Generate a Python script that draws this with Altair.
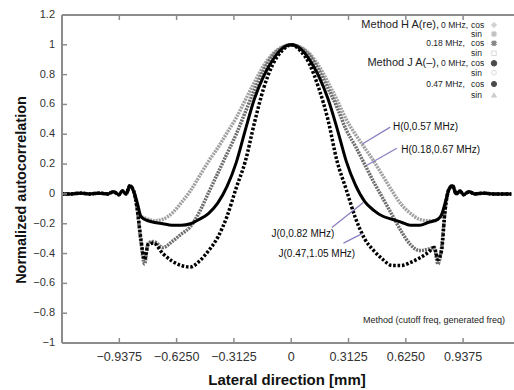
import altair as alt
import pandas as pd

# ---------------- data ----------------
x_mm = [-1.25, -1.2, -1.15, -1.1, -1.05, -1.0, -0.97, -0.94, -0.92, -0.9, -0.88, -0.86,
        -0.84, -0.82, -0.8, -0.78, -0.75, -0.7, -0.65, -0.6, -0.55, -0.5, -0.45, -0.4,
        -0.35, -0.3, -0.25, -0.2, -0.15, -0.1, -0.05, 0.0, 0.05, 0.1, 0.15, 0.2, 0.25,
        0.3, 0.35, 0.4, 0.45, 0.5, 0.55, 0.6, 0.65, 0.7, 0.75, 0.78, 0.8, 0.82, 0.84,
        0.86, 0.88, 0.9, 0.92, 0.94, 0.97, 1.0, 1.05, 1.1, 1.15, 1.2]

h0_cos = [0.0, 0.0, 0.005, 0.0, 0.005, 0.0, 0.015, -0.005, 0.02, 0.0, 0.055, 0.02,
          -0.06, -0.15, -0.16, -0.17, -0.18, -0.17, -0.13, -0.06, 0.02, 0.12, 0.22, 0.31,
          0.41, 0.51, 0.63, 0.75, 0.86, 0.94, 0.985, 1.0, 0.985, 0.94, 0.86, 0.75, 0.63,
          0.50, 0.40, 0.31, 0.22, 0.12, 0.02, -0.07, -0.13, -0.17, -0.18, -0.18, -0.17, -0.14, -0.06,
          0.03, 0.055, 0.0, 0.02, -0.005, 0.015, 0.0, 0.005, 0.0, 0.0, 0.0]

h018_cos = [0.0, 0.0, 0.005, 0.0, 0.005, 0.0, 0.015, -0.005, 0.02, 0.0, 0.055, 0.02,
            -0.10, -0.32, -0.47, -0.33, -0.32, -0.36, -0.32, -0.27, -0.22, -0.12, 0.01, 0.14,
            0.27, 0.40, 0.55, 0.70, 0.83, 0.93, 0.98, 1.0, 0.98, 0.93, 0.83, 0.71, 0.58,
            0.43, 0.32, 0.20, 0.08, -0.03, -0.14, -0.25, -0.34, -0.38, -0.37, -0.36, -0.47, -0.36, -0.10,
            0.03, 0.055, 0.0, 0.02, -0.005, 0.015, 0.0, 0.005, 0.0, 0.0, 0.0]

j0_cos = [0.0, 0.0, 0.005, 0.0, 0.005, 0.0, 0.015, -0.005, 0.02, 0.0, 0.055, 0.02,
          -0.06, -0.15, -0.17, -0.18, -0.19, -0.20, -0.21, -0.21, -0.20, -0.17, -0.13, -0.06,
          0.05, 0.21, 0.43, 0.64, 0.79, 0.90, 0.975, 1.0, 0.975, 0.90, 0.79, 0.64, 0.44,
          0.22, 0.06, -0.05, -0.11, -0.15, -0.17, -0.19, -0.21, -0.21, -0.19, -0.18, -0.17, -0.14, -0.06,
          0.03, 0.055, 0.0, 0.02, -0.005, 0.015, 0.0, 0.005, 0.0, 0.0, 0.0]

j047_cos = [0.0, 0.0, 0.005, 0.0, 0.005, 0.0, 0.015, -0.005, 0.02, 0.0, 0.055, 0.02,
            -0.10, -0.30, -0.44, -0.34, -0.33, -0.40, -0.45, -0.48, -0.49, -0.45, -0.38, -0.29,
            -0.15, 0.04, 0.22, 0.48, 0.71, 0.87, 0.96, 1.0, 0.96, 0.87, 0.71, 0.50, 0.22,
            0.03, -0.16, -0.30, -0.38, -0.44, -0.48, -0.48, -0.46, -0.43, -0.39, -0.36, -0.44, -0.38, -0.10,
            0.03, 0.055, 0.0, 0.02, -0.005, 0.015, 0.0, 0.005, 0.0, 0.0, 0.0]

x_ticks = [-0.9375, -0.625, -0.3125, 0.0, 0.3125, 0.625, 0.9375]
x_tick_labels = ["\u22120.9375", "\u22120.6250", "\u22120.3125", "0", "0.3125", "0.6250", "0.9375"]
y_ticks = [-1.0, -0.8, -0.6, -0.4, -0.2, 0.0, 0.2, 0.4, 0.6, 0.8, 1.0, 1.2]
y_tick_labels = ["\u22121", "\u22120.8", "\u22120.6", "\u22120.4", "\u22120.2", "0",
                 "0.2", "0.4", "0.6", "0.8", "1", "1.2"]

curve_labels = ["H(0,0.57 MHz)", "H(0.18,0.67 MHz)", "J(0,0.82 MHz)", "J(0.47,1.05 MHz)"]
curve_label_x = [0.555, 0.60, 0.235, 0.349]
curve_label_y = [0.45, 0.293, -0.266, -0.40]
pointer_x = [0.540, 0.576, 0.222, 0.285]
pointer_y = [0.448, 0.306, -0.226, -0.33]
pointer_x2 = [0.386, 0.413, 0.393, 0.387]
pointer_y2 = [0.333, 0.192, -0.057, -0.266]

X_DOM = [-1.25, 1.215]
Y_DOM = [-1.0, 1.2]
FONT = "Liberation Sans"
GRAY = "#8c8c8c"

xs = alt.Scale(domain=X_DOM, nice=False, zero=False)
ys = alt.Scale(domain=Y_DOM, nice=False, zero=False)


def X(field=None, datum=None):
    if datum is not None:
        return alt.X(datum=datum, scale=xs, axis=None)
    return alt.X(field, type="quantitative", scale=xs, axis=None)


def Y(field=None, datum=None):
    if datum is not None:
        return alt.Y(datum=datum, scale=ys, axis=None)
    return alt.Y(field, type="quantitative", scale=ys, axis=None)


def curve(vals, color, width, dash=None):
    df = pd.DataFrame({"x": x_mm, "y": vals})
    kw = dict(color=color, strokeWidth=width, clip=True, interpolate="monotone")
    if dash:
        kw["strokeDash"] = dash
    return alt.Chart(df).mark_line(**kw).encode(x=X("x"), y=Y("y"))


layers = [
    curve(h0_cos, "#a0a0a0", 3.5, [2, 1]),
    curve(h018_cos, "#6e6e6e", 3.5, [2, 1]),
    curve(j0_cos, "#000000", 3.0),
    curve(j047_cos, "#000000", 3.5, [2.6, 1.8]),
]

# frame, inside tick marks and tick labels
tx = pd.DataFrame({"x": x_ticks, "t": x_tick_labels})
ty = pd.DataFrame({"y": y_ticks, "t": y_tick_labels})
tick_len_y = 5 / 149.0
tick_len_x = 5 / 183.4
one = pd.DataFrame({"k": [0]})
layers.append(alt.Chart(one).mark_rule(color=GRAY, strokeWidth=2).encode(
    x=X(datum=X_DOM[0]), y=Y(datum=Y_DOM[0]), y2=alt.Y2(datum=Y_DOM[1])))
layers.append(alt.Chart(one).mark_rule(color=GRAY, strokeWidth=2).encode(
    y=Y(datum=Y_DOM[0]), x=X(datum=X_DOM[0]), x2=alt.X2(datum=X_DOM[1])))
layers.append(alt.Chart(one).mark_rule(color=GRAY, strokeWidth=2).encode(
    y=Y(datum=Y_DOM[1]), x=X(datum=X_DOM[0]), x2=alt.X2(datum=X_DOM[1])))
layers.append(alt.Chart(tx).mark_rule(color=GRAY, strokeWidth=1.5).encode(
    x=X("x"), y=Y(datum=Y_DOM[0]), y2=alt.Y2(datum=Y_DOM[0] + tick_len_y)))
layers.append(alt.Chart(tx).mark_rule(color=GRAY, strokeWidth=1.5).encode(
    x=X("x"), y=Y(datum=Y_DOM[1]), y2=alt.Y2(datum=Y_DOM[1] - tick_len_y)))
layers.append(alt.Chart(ty).mark_rule(color=GRAY, strokeWidth=1.5).encode(
    y=Y("y"), x=X(datum=X_DOM[0]), x2=alt.X2(datum=X_DOM[0] + tick_len_x)))
layers.append(alt.Chart(tx).mark_text(font=FONT, fontSize=12.5, color="#333", align="center",
                                      baseline="middle", dy=14).encode(
    x=X("x"), y=Y(datum=Y_DOM[0]), text="t:N"))
layers.append(alt.Chart(ty).mark_text(font=FONT, fontSize=11, color="#333", align="right",
                                      baseline="middle", dx=-7).encode(
    y=Y("y"), x=X(datum=X_DOM[0]), text="t:N"))

# pointer lines and curve labels
ptr = pd.DataFrame({"x": pointer_x, "y": pointer_y, "x2": pointer_x2, "y2": pointer_y2})
layers.append(alt.Chart(ptr).mark_rule(color="#8c7fc0", strokeWidth=1.3).encode(
    x=X("x"), y=Y("y"), x2="x2:Q", y2="y2:Q"))
lab = pd.DataFrame({"x": curve_label_x, "y": curve_label_y, "t": curve_labels,
                    "a": ["left", "left", "right", "right"]})
for align in ["left", "right"]:
    layers.append(alt.Chart(lab[lab.a == align]).mark_text(
        align=align, baseline="middle", font=FONT, fontSize=10, color="#111").encode(
        x=X("x"), y=Y("y"), text="t:N"))

# manual legend and titles (positions are layout, in plot pixels)
leg_y = [10, 19, 28.3, 38.3, 48.3, 57.7, 69, 80]
leg_big = [("Method H A(re),", 0), ("Method J A(\u2013),", 4)]
leg_freq = [("0 MHz,", 0), ("0.18 MHz,", 2), ("0 MHz,", 4), ("0.47 MHz,", 6)]
leg_comp = ["cos", "sin", "cos", "sin", "cos", "sin", "cos", "sin"]
leg_marks = [("cross", "#bdbdbd", "#bdbdbd", 18, 0), ("cross", "#a8a8a8", "#a8a8a8", 22, 45),
             ("cross", "#555555", "#555555", 22, 45), ("square", None, "#c8c8c8", 20, 0),
             ("circle", "#000000", "#000000", 30, 0), ("circle", None, "#d0d0d0", 22, 0),
             ("circle", "#000000", "#000000", 26, 0), ("triangle-up", "#bbbbbb", "#bbbbbb", 24, 0)]

anchor = alt.Chart(one)


def txt(s, x, y, size, align, color="#222", weight="normal", angle=0):
    return anchor.mark_text(text=s, align=align, baseline="middle", font=FONT, angle=angle,
                            fontSize=size, color=color, fontWeight=weight).encode(
        x=alt.value(x), y=alt.value(y))


for s, i in leg_big:
    layers.append(txt(s, 377, leg_y[i], 11, "right"))
for s, i in leg_freq:
    layers.append(txt(s, 406 if s.startswith("0 ") else 403, leg_y[i], 8.5, "right"))
for i, s in enumerate(leg_comp):
    layers.append(txt(s, 409, leg_y[i], 8.5, "left"))
for i, (shape, fill, stroke, size, ang) in enumerate(leg_marks):
    kw = dict(shape=shape, size=size, stroke=stroke, strokeWidth=1, angle=ang, filled=fill is not None)
    if fill is not None:
        kw["fill"] = fill
    layers.append(anchor.mark_point(**kw).encode(x=alt.value(432), y=alt.value(leg_y[i])))

layers.append(txt("Method (cutoff freq, generated freq)", 443, 305, 9, "right"))
layers.append(txt("Lateral direction [mm]", 225, 365, 15, "center", "#111", "bold"))
layers.append(txt("Normalized autocorrelation", -40, 175, 14.5, "center", "#111", "bold", 270))

chart = alt.layer(*layers).properties(
    width=452, height=328,
    autosize=alt.AutoSizeParams(type="none"),
    padding={"left": 62, "top": 15, "right": 0, "bottom": 47},
).configure_view(stroke=None).configure(background="white")

chart.save("out.html", embed_options={"renderer": "svg", "actions": False})
